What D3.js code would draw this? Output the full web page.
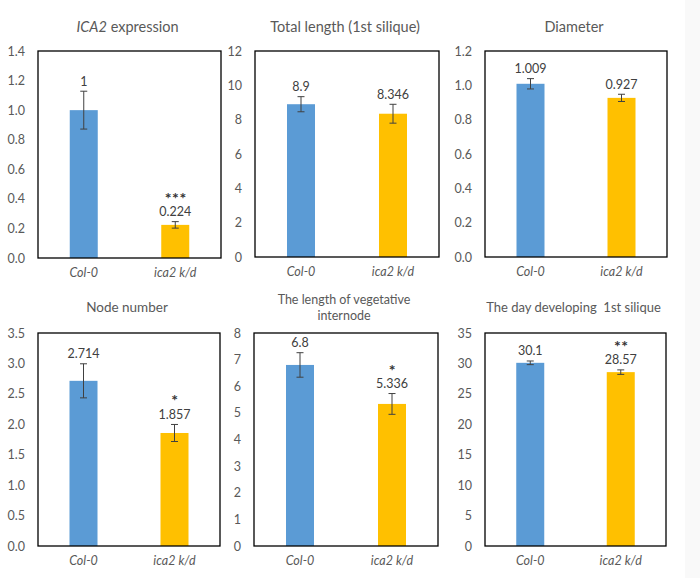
<!DOCTYPE html>
<html>
<head>
<meta charset="utf-8">
<script src="https://cdn.jsdelivr.net/npm/d3@7"></script>
<style>
  html, body { margin: 0; padding: 0; background: #ffffff; }
  svg { display: block; }
  text { font-family: Lato, "Open Sans", "Liberation Sans", sans-serif; }
  .title { white-space: pre; }
</style>
</head>
<body>
<svg id="chart" width="700" height="578"></svg>
<script>
// ---------- data ----------
const categories = ["Col-0", "ica2 k/d"];

const expressionValues = [1, 0.224];
const expressionErrors = [0.128, 0.022];
const expressionLabels = ["1", "0.224"];
const expressionTicks = [0, 0.2, 0.4, 0.6, 0.8, 1.0, 1.2, 1.4];

const lengthValues = [8.9, 8.346];
const lengthErrors = [0.44, 0.55];
const lengthLabels = ["8.9", "8.346"];
const lengthTicks = [0, 2, 4, 6, 8, 10, 12];

const diameterValues = [1.009, 0.927];
const diameterErrors = [0.03, 0.021];
const diameterLabels = ["1.009", "0.927"];
const diameterTicks = [0, 0.2, 0.4, 0.6, 0.8, 1.0, 1.2];

const nodeValues = [2.714, 1.857];
const nodeErrors = [0.28, 0.14];
const nodeLabels = ["2.714", "1.857"];
const nodeTicks = [0, 0.5, 1.0, 1.5, 2.0, 2.5, 3.0, 3.5];

const internodeValues = [6.8, 5.336];
const internodeErrors = [0.46, 0.39];
const internodeLabels = ["6.8", "5.336"];
const internodeTicks = [0, 1, 2, 3, 4, 5, 6, 7, 8];

const dayValues = [30.1, 28.57];
const dayErrors = [0.3, 0.37];
const dayLabels = ["30.1", "28.57"];
const dayTicks = [0, 5, 10, 15, 20, 25, 30, 35];

const panelTitles = [
  [[{t: "ICA2", i: true}, {t: " expression"}]],
  [[{t: "Total length (1st silique)"}]],
  [[{t: "Diameter"}]],
  [[{t: "Node number"}]],
  [[{t: "The length of vegetative"}], [{t: "internode"}]],
  [[{t: "The day developing  1st silique"}]]
];
const significance = ["***", "", "", "*", "*", "**"];
const tickFormats = [".1f", "d", ".1f", ".1f", "d", "d"];

const barColors = ["#5b9bd5", "#ffc000"];

// ---------- layout ----------
const panels = [
  {x0: 38,  x1: 221, y0: 51,  y1: 258, values: expressionValues, errors: expressionErrors, labels: expressionLabels, ticks: expressionTicks, titleY: 27, titleSize: 14.5},
  {x0: 255, x1: 439, y0: 51,  y1: 257, values: lengthValues, errors: lengthErrors, labels: lengthLabels, ticks: lengthTicks, titleY: 27, titleSize: 14.5},
  {x0: 485, x1: 667, y0: 51,  y1: 257, values: diameterValues, errors: diameterErrors, labels: diameterLabels, ticks: diameterTicks, titleY: 27, titleSize: 14.5},
  {x0: 38,  x1: 220, y0: 333, y1: 546, values: nodeValues, errors: nodeErrors, labels: nodeLabels, ticks: nodeTicks, titleY: 307, titleSize: 13.5},
  {x0: 254, x1: 438, y0: 333, y1: 546, values: internodeValues, errors: internodeErrors, labels: internodeLabels, ticks: internodeTicks, titleY: 300, titleSize: 12.5},
  {x0: 485, x1: 666, y0: 333, y1: 546, values: dayValues, errors: dayErrors, labels: dayLabels, ticks: dayTicks, titleY: 307, titleSize: 13}
];

const svg = d3.select("#chart");
svg.append("rect").attr("x", 0).attr("y", 0).attr("width", 700).attr("height", 578).attr("fill", "#ffffff");
svg.append("rect").attr("x", 685).attr("y", 0).attr("width", 15).attr("height", 578).attr("fill", "#f9f9f9");

const textGray = "#595959";
const darkGray = "#404040";

panels.forEach((p, pi) => {
  const g = svg.append("g");
  const w = p.x1 - p.x0;
  const x = d3.scaleBand().domain(categories).range([p.x0, p.x1]).paddingInner(1 - 56 / w).paddingOuter((1 - 56 / w) / 2);
  const yMax = p.ticks[p.ticks.length - 1];
  const y = d3.scaleLinear().domain([0, yMax]).range([p.y1, p.y0]);

  // y axis labels
  const axis = d3.axisLeft(y).tickValues(p.ticks).tickFormat(d3.format(tickFormats[pi])).tickSize(0).tickPadding(13);
  const ag = g.append("g").attr("transform", `translate(${p.x0},0)`).call(axis);
  ag.select(".domain").remove();
  ag.selectAll("text").attr("fill", textGray).attr("font-size", 12.5).attr("font-family", "Lato, 'Open Sans', sans-serif");

  // x axis labels
  const xa = d3.axisBottom(x).tickSize(0).tickPadding(10);
  const xg = g.append("g").attr("transform", `translate(0,${p.y1})`).call(xa);
  xg.select(".domain").remove();
  xg.selectAll("text").attr("fill", textGray).attr("font-size", 12.5).attr("font-style", "italic").attr("font-family", "Lato, 'Open Sans', sans-serif");

  // bars
  g.selectAll("rect.bar").data(categories).enter().append("rect")
    .attr("class", "bar")
    .attr("x", d => x(d))
    .attr("width", x.bandwidth())
    .attr("y", (d, i) => y(p.values[i]))
    .attr("height", (d, i) => y(0) - y(p.values[i]))
    .attr("fill", (d, i) => barColors[i]);

  // error bars
  categories.forEach((c, i) => {
    const cx = x(c) + x.bandwidth() / 2;
    const top = y(p.values[i] + p.errors[i]);
    const bot = y(p.values[i] - p.errors[i]);
    g.append("line").attr("x1", cx).attr("x2", cx).attr("y1", top).attr("y2", bot).attr("stroke", darkGray).attr("stroke-width", 1);
    g.append("line").attr("x1", cx - 3.5).attr("x2", cx + 3.5).attr("y1", top).attr("y2", top).attr("stroke", darkGray).attr("stroke-width", 1);
    g.append("line").attr("x1", cx - 3.5).attr("x2", cx + 3.5).attr("y1", bot).attr("y2", bot).attr("stroke", darkGray).attr("stroke-width", 1);

    g.append("text")
      .attr("x", cx)
      .attr("y", top - 10)
      .attr("dy", "0.35em")
      .attr("text-anchor", "middle")
      .attr("font-size", 12.5)
      .attr("fill", darkGray)
      .text(p.labels[i]);

    if (i === 1 && significance[pi]) {
      g.append("text")
        .attr("x", cx + 0.5)
        .attr("y", top - 18)
        .attr("text-anchor", "middle")
        .attr("font-size", 16)
        .attr("font-weight", "bold")
        .attr("letter-spacing", 0.5)
        .attr("fill", "#333333")
        .text(significance[pi]);
    }
  });

  // frame
  g.append("rect").attr("x", p.x0).attr("y", p.y0).attr("width", w).attr("height", p.y1 - p.y0)
    .attr("fill", "none").attr("stroke", "#000000").attr("stroke-width", 1.3);

  // title
  const cxT = (p.x0 + p.x1) / 2 - 2;
  panelTitles[pi].forEach((line, li) => {
    const t = g.append("text")
      .attr("class", "title")
      .attr("x", cxT)
      .attr("y", p.titleY + li * 16)
      .attr("dy", "0.35em")
      .attr("text-anchor", "middle")
      .attr("font-size", p.titleSize)
      .attr("fill", textGray);
    line.forEach(seg => {
      t.append("tspan").attr("font-style", seg.i ? "italic" : "normal").text(seg.t);
    });
  });
});
</script>
</body>
</html>
